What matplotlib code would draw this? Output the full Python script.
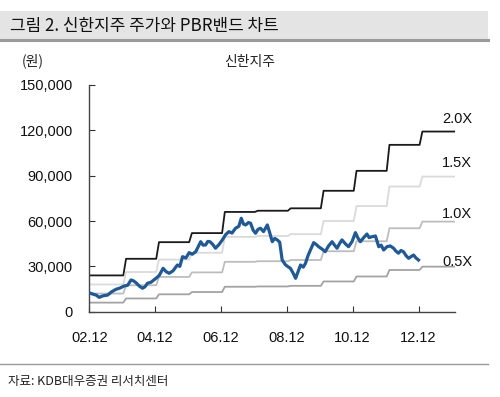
import numpy as np
import matplotlib.pyplot as plt
from matplotlib.patches import Rectangle
from matplotlib.lines import Line2D

plt.rcParams['font.family'] = ['Liberation Sans', 'Noto Sans CJK KR', 'DejaVu Sans']

# -------------------------------
# Data (months counted from Dec 2002)
# -------------------------------
bps_month = [0, 13, 25, 37, 49, 61, 73, 85, 97, 109, 121]
bps_value = [12000, 17500, 23000, 26000, 33000, 33400, 34200, 40000, 46600, 55200, 59600]
band_mult = [2.0, 1.5, 1.0, 0.5]
band_label = ['2.0X', '1.5X', '1.0X', '0.5X']
band_color = ['#1a1a1a', '#dadada', '#bdbdbd', '#a3a3a3']

price_month = [0.4, 1.5, 2.5, 3.6, 5.0, 6.7, 8.0, 9.7, 11.0, 12.7, 14.0, 15.2, 16.0, 17.0,
               18.2, 19.4, 20.3, 21.2, 22.5, 24.3, 25.5, 26.9, 28.0, 29.1, 30.5, 32.1, 33.0,
               34.0, 35.2, 36.4, 37.5, 38.8, 39.7, 40.6, 41.5, 42.4, 43.2, 44.0, 45.0, 46.0,
               47.3, 48.5, 49.7, 50.9, 52.0, 53.3, 54.5, 55.4, 56.2, 57.0, 58.0, 58.8, 59.7,
               60.6, 61.5, 62.4, 63.5, 64.9, 65.8, 66.7, 67.6, 68.5, 69.4, 70.3, 71.5, 72.4,
               73.3, 74.3, 75.2, 76.0, 77.0, 78.0, 78.8, 79.7, 80.6, 81.8, 82.7, 83.6, 84.8,
               86.0, 87.2, 88.5, 89.4, 90.3, 91.2, 92.1, 93.3, 94.5, 95.8, 97.0, 98.0, 98.8,
               100.0, 101.2, 102.0, 103.0, 104.3, 105.5, 106.4, 107.3, 108.5, 109.7, 110.9,
               111.8, 112.7, 113.6, 114.5, 115.5, 116.4, 117.3, 118.2, 119.1, 120.0]
price_value = [12200, 11500, 11000, 9500, 10500, 11000, 13000, 14800, 15500, 17000, 17500, 21000, 20500, 19200,
               17000, 15500, 16500, 18800, 19500, 22100, 24000, 28700, 26500, 25400, 27000, 30900, 30000,
               36400, 35500, 39100, 38000, 39700, 43000, 46300, 44000, 44200, 46500, 46300, 44500, 42000,
               44500, 47500, 51000, 53000, 52000, 55200, 56500, 61800, 58000, 57400, 59000, 58500, 54000,
               51900, 54500, 55200, 53000, 57400, 52000, 46300, 48500, 47500, 46000, 34200, 31000, 29800,
               28700, 25500, 22100, 26000, 30900, 29500, 32000, 37000, 40800, 45700, 44500, 43000, 41500,
               39700, 43500, 46300, 44000, 42000, 45000, 47500, 45000, 43000, 46500, 52300, 48500, 46300,
               49000, 51400, 49000, 49600, 50100, 43000, 44000, 40800, 43000, 43500, 42000,
               40000, 38700, 40500, 39700, 37000, 35300, 36500, 37500, 35500, 34200]

x_end = 133.0

# step bands built month by month from the BPS table
months = np.arange(0, x_end + 1)
bps_monthly = np.array([bps_value[np.searchsorted(bps_month, m, side='right') - 1] for m in months])

# -------------------------------
# Plot
# -------------------------------
fig = plt.figure(figsize=(5.0, 3.97), dpi=100)
ax = fig.add_axes([0.1786, 0.2149, 0.9100 - 0.1786, 0.7859 - 0.2149])

for mult, lab, col in zip(band_mult, band_label, band_color):
    ax.plot(months + 0.4, bps_monthly * mult, color=col, lw=1.3, zorder=2)

ax.plot(price_month, price_value, color='#1f5a96', lw=2.3, zorder=3)

label_y = [127400, 98200, 64700, 32700]
for lab, yy in zip(band_label, label_y):
    ax.text(128.6, yy, lab, fontsize=10.5, color='#111111', va='center', ha='left')

ax.set_xlim(0, 133.3)
ax.set_ylim(0, 150000)
ax.set_xticks([0, 24, 48, 72, 96, 120])
ax.set_xticklabels(['02.12', '04.12', '06.12', '08.12', '10.12', '12.12'])
ax.set_yticks([0, 30000, 60000, 90000, 120000, 150000])
ax.set_yticklabels(['0', '30,000', '60,000', '90,000', '120,000', '150,000'])
ax.tick_params(axis='both', direction='in', length=4, color='#333333', labelsize=10.5,
               labelcolor='#111111')
ax.tick_params(axis='y', pad=12)
ax.tick_params(axis='x', pad=14)
for s in ['top', 'right']:
    ax.spines[s].set_visible(False)
for s in ['left', 'bottom']:
    ax.spines[s].set_color('#444444')
    ax.spines[s].set_linewidth(1.0)

# -------------------------------
# Titles, header box and footer
# -------------------------------
fig.patches.append(Rectangle((0, 1 - 40 / 397), 488 / 500, 28.5 / 397, transform=fig.transFigure,
                             facecolor='#e4e4e4', edgecolor='none', zorder=0))
fig.lines.append(Line2D([0, 488 / 500], [1 - 40 / 397] * 2, transform=fig.transFigure,
                        color='#9a9a9a', lw=2.2))
fig.text(10 / 500, 1 - 26 / 397, '그림 2. 신한지주 주가와 PBR밴드 차트', fontsize=12.2,
         family=['Noto Sans CJK KR'], va='center', ha='left', color='#111111')
fig.text(22 / 500, 1 - 61 / 397, '(원)', fontsize=10, family=['Noto Sans CJK KR'],
         va='center', ha='left', color='#222222')
fig.text(250 / 500, 1 - 62 / 397, '신한지주', fontsize=10, family=['Noto Sans CJK KR'],
         va='center', ha='center', color='#222222')
fig.lines.append(Line2D([0, 488 / 500], [1 - 363.5 / 397] * 2, transform=fig.transFigure,
                        color='#9a9a9a', lw=1.0))
fig.text(8 / 500, 1 - 381 / 397, '자료: KDB대우증권 리서치센터', fontsize=9,
         family=['Noto Sans CJK KR'], va='center', ha='left', color='#222222')

fig.savefig('out.png', dpi=100)
